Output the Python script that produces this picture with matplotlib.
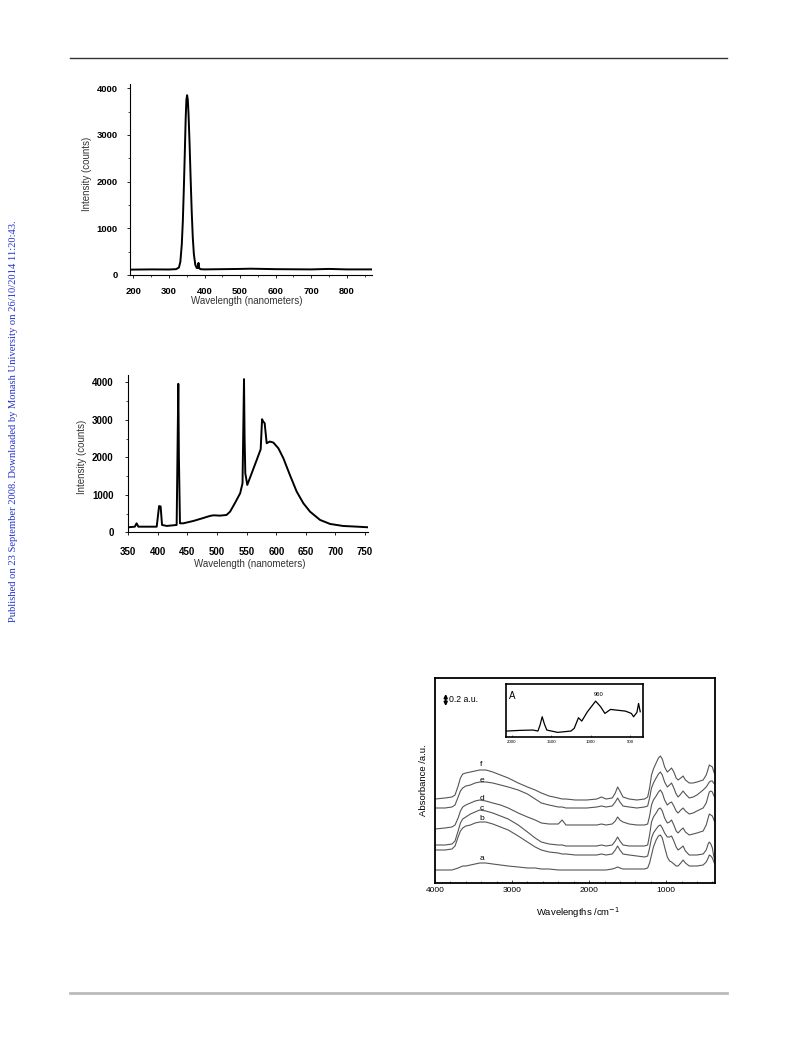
import numpy as np
import matplotlib.pyplot as plt
from matplotlib.lines import Line2D
from matplotlib.ticker import MultipleLocator

plt.rcParams['font.family'] = ['Liberation Sans', 'DejaVu Sans']

# --- chart 1: lamp spectrum (UV)
wl1 = [189, 250, 300, 320, 328, 332, 336, 339, 342, 345, 347, 349, 351, 353, 355, 358, 361,
       364, 367, 370, 374, 378, 381, 383, 385, 388, 400, 450, 500, 530, 600, 700, 750, 800, 871]
int1 = [115, 120, 118, 125, 160, 280, 650, 1150, 1900, 2750, 3350, 3750, 3850, 3750, 3450, 2800, 2050,
        1350, 800, 450, 220, 150, 150, 260, 150, 125, 120, 125, 130, 135, 125, 120, 130, 120, 120]

# --- chart 2: lamp spectrum (visible)
wl2 = [350, 361, 364, 367, 398, 402, 404.6, 407, 415, 431.7, 434.5, 435.5, 437.3, 443, 460, 477,
       488, 494, 505, 516, 522, 530, 539, 543, 545.5, 546.5, 547.7, 551, 558.5, 567, 573.7, 576,
       578, 580.4, 583.8, 589, 595, 603.5, 612, 623, 634.5, 645.8, 657, 674, 691, 713, 736, 755]
int2 = [134, 150, 240, 150, 150, 700, 690, 196, 170, 196, 3965, 2000, 240, 240, 303, 383,
        437, 454, 445, 463, 552, 775, 1042, 1310, 4090, 2500, 1577, 1265, 1577, 1933, 2219, 3020,
        2958, 2913, 2379, 2423, 2397, 2245, 1978, 1532, 1087, 775, 552, 330, 223, 169, 151, 134]

# --- chart 3: FTIR spectra a-f (heights in arbitrary units, 12 units = 0.2 a.u.)
wn = [4000, 3870, 3780, 3740, 3700, 3670, 3640, 3600, 3540, 3480,
      3420, 3340, 3250, 3150, 3050, 2920, 2800, 2700, 2620, 2520,
      2400, 2350, 2300, 2180, 2030, 1900, 1840, 1780, 1700, 1660,
      1630, 1600, 1560, 1480, 1380, 1280, 1240, 1215, 1190, 1165,
      1130, 1100, 1075, 1050, 1020, 985, 955, 930, 900, 870,
      845, 810, 780, 750, 700, 650, 600, 520, 480, 455,
      440, 420, 400, 385, 370]
spec_f = [84, 85, 86, 88, 97, 105, 109, 110, 111, 112,
          113, 113, 111, 108, 105, 100, 96, 93, 90, 87,
          85, 84, 84, 83, 83, 84, 86, 84, 85, 90,
          96, 92, 86, 84, 83, 84, 86, 95, 108, 114,
          120, 125, 127, 124, 116, 111, 113, 115, 111, 105,
          103, 105, 107, 103, 100, 100, 101, 103, 108, 114,
          118, 117, 116, 112, 109]
spec_e = [75, 75, 76, 78, 86, 92, 95, 97, 98, 100,
          101, 101, 100, 98, 96, 93, 89, 84, 80, 78,
          76, 76, 75, 75, 75, 76, 77, 76, 77, 81,
          85, 81, 77, 76, 75, 76, 77, 85, 95, 100,
          105, 109, 111, 108, 101, 96, 98, 100, 95, 89,
          86, 89, 92, 89, 85, 86, 88, 93, 96, 99,
          101, 102, 102, 100, 99]
spec_d = [54, 55, 56, 58, 65, 72, 76, 78, 80, 82,
          83, 82, 80, 78, 75, 70, 66, 63, 60, 59,
          59, 63, 58, 58, 58, 58, 59, 58, 59, 62,
          66, 63, 61, 59, 58, 58, 59, 67, 78, 83,
          87, 91, 93, 90, 83, 78, 80, 81, 77, 72,
          70, 73, 75, 72, 69, 70, 72, 75, 80, 87,
          91, 92, 91, 88, 86]
spec_c = [38, 38, 39, 42, 52, 60, 64, 66, 69, 71,
          73, 72, 70, 67, 64, 58, 51, 45, 41, 39,
          38, 38, 37, 37, 37, 37, 38, 37, 38, 42,
          46, 42, 38, 37, 37, 37, 38, 48, 61, 66,
          70, 74, 75, 72, 65, 60, 61, 63, 58, 52,
          50, 53, 55, 51, 48, 49, 50, 52, 58, 65,
          69, 68, 67, 64, 61]
spec_b = [33, 33, 34, 37, 46, 52, 55, 57, 58, 60,
          61, 61, 59, 56, 53, 47, 41, 36, 33, 31,
          30, 29, 29, 28, 28, 28, 29, 28, 29, 33,
          37, 33, 29, 28, 27, 26, 27, 35, 45, 50,
          54, 57, 58, 55, 50, 46, 46, 47, 42, 36,
          33, 35, 37, 32, 28, 28, 28, 29, 33, 39,
          41, 39, 35, 28, 23]
spec_a = [13, 13, 13, 14, 15, 16, 17, 17, 18, 19,
          20, 20, 19, 18, 17, 16, 15, 15, 14, 14,
          13, 13, 13, 13, 13, 13, 13, 13, 14, 15,
          16, 15, 14, 14, 14, 14, 15, 20, 28, 36,
          43, 47, 48, 45, 36, 26, 22, 21, 19, 17,
          17, 20, 23, 20, 17, 17, 17, 18, 21, 25,
          28, 27, 25, 22, 19]
curve_names = ['a', 'b', 'c', 'd', 'e', 'f']
label_heights = [24, 65, 74, 84, 102, 118]

# inset A
wn_A = [2062, 1896, 1730, 1667, 1640, 1613, 1585, 1555, 1417, 1250, 1209, 1155, 1113, 1042,
        938, 875, 821, 750, 562, 487, 459, 417, 396, 375]
spec_A = [17, 19, 20, 17, 35, 60, 38, 20, 13, 17, 25, 57, 47, 75,
          107, 90, 70, 82, 77, 70, 60, 73, 100, 75]

W, H = 793, 1039
fig = plt.figure(figsize=(W / 100, H / 100), dpi=100)


def box(l, t, r, b):
    return [l / W, 1 - b / H, (r - l) / W, (b - t) / H]


def pt(x, y):
    return x / W, 1 - y / H


# page rules and side note
fig.add_artist(Line2D([70 / W, 727 / W], [1 - 58 / H] * 2, color='#333333', lw=1.0))
fig.add_artist(Line2D([70 / W, 727 / W], [1 - 993 / H] * 2, color='#bbbbbb', lw=2.0))
fig.text(*pt(14, 421), 'Published on 23 September 2008. Downloaded by Monash University on 26/10/2014 11:20:43.',
         rotation=90, ha='center', va='center', color='#2233cc', fontsize=7.6,
         family=['Liberation Serif', 'DejaVu Serif'])

# chart 1
ax1 = fig.add_axes(box(129.5, 83.5, 372, 275))
ax1.plot(wl1, int1, color='k', lw=1.4)
ax1.set_xlim(189, 871)
ax1.set_ylim(0, 4100)
ax1.spines[['top', 'right']].set_visible(False)
ax1.set_xticks(range(200, 801, 100))
ax1.set_yticks(range(0, 4001, 1000))
ax1.xaxis.set_minor_locator(MultipleLocator(50))
ax1.yaxis.set_minor_locator(MultipleLocator(500))
ax1.tick_params(labelsize=6.8, length=2.5, width=0.6, pad=6)
ax1.tick_params(which='minor', length=1.5, width=0.5)
for lab in ax1.get_xticklabels() + ax1.get_yticklabels():
    lab.set_fontweight('bold')
ax1.set_xlabel('Wavelength (nanometers)', fontsize=7, color='#333333')
ax1.set_ylabel('Intensity (counts)', fontsize=7, color='#333333')
ax1.xaxis.set_label_coords(*pt(247, 301), transform=fig.transFigure)
ax1.yaxis.set_label_coords(*pt(87, 174), transform=fig.transFigure)
ax1.xaxis.label.set_va('center')
ax1.yaxis.label.set_va('center')

# chart 2
ax2 = fig.add_axes(box(128.3, 375, 368, 532.3))
ax2.plot(wl2, int2, color='k', lw=1.4)
ax2.set_xlim(350, 755)
ax2.set_ylim(0, 4200)
ax2.spines[['top', 'right']].set_visible(False)
ax2.set_xticks(range(350, 751, 50))
ax2.set_yticks(range(0, 4001, 1000))
ax2.yaxis.set_minor_locator(MultipleLocator(500))
ax2.tick_params(labelsize=7, length=2.5, width=0.6, pad=8)
ax2.tick_params(which='minor', length=1.5, width=0.5)
for lab in ax2.get_xticklabels() + ax2.get_yticklabels():
    lab.set_fontweight('bold')
ax2.set_xlabel('Wavelength (nanometers)', fontsize=7, color='#333333')
ax2.set_ylabel('Intensity (counts)', fontsize=7, color='#333333')
ax2.xaxis.set_label_coords(*pt(250, 564), transform=fig.transFigure)
ax2.yaxis.set_label_coords(*pt(82, 457), transform=fig.transFigure)
ax2.xaxis.label.set_va('center')
ax2.yaxis.label.set_va('center')

# chart 3
ax3 = fig.add_axes(box(435, 678, 715, 883))
for name, spec in zip(curve_names, [spec_a, spec_b, spec_c, spec_d, spec_e, spec_f]):
    ax3.plot(wn, spec, color='#555555', lw=0.8)
for name, h in zip(curve_names, label_heights):
    ax3.text(3396, h, name, fontsize=6, ha='center', va='center')
ax3.set_xlim(4000, 366)
ax3.set_ylim(0, 205)
ax3.set_xticks([4000, 3000, 2000, 1000])
ax3.xaxis.set_minor_locator(MultipleLocator(200))
ax3.set_yticks([])
for s in ax3.spines.values():
    s.set_linewidth(1.3)
ax3.tick_params(labelsize=6, direction='in', length=2, width=0.5, pad=3)
ax3.tick_params(which='minor', direction='in', length=1.2, width=0.4)
ax3.set_xlabel('Wavelengths /cm$^{-1}$', fontsize=6.8)
ax3.set_ylabel('Absorbance /a.u.', fontsize=6.8)
ax3.xaxis.set_label_coords(*pt(578, 913), transform=fig.transFigure)
ax3.yaxis.set_label_coords(*pt(424, 780), transform=fig.transFigure)
ax3.xaxis.label.set_va('center')
ax3.yaxis.label.set_va('center')
ax3.annotate('', xy=(3861, 189), xytext=(3861, 177),
             arrowprops=dict(arrowstyle='<|-|>', color='k', lw=1.2, mutation_scale=5,
                             shrinkA=0, shrinkB=0))
ax3.text(3818, 183, '0.2 a.u.', fontsize=6.3, va='center')

# inset A
axA = fig.add_axes(box(506, 683.5, 643, 736.7))
axA.plot(wn_A, spec_A, color='k', lw=0.9)
axA.set_xlim(2070, 340)
axA.set_ylim(0, 160)
axA.set_xticks([2000, 1500, 1000, 500])
axA.set_yticks([])
for s in axA.spines.values():
    s.set_linewidth(1.2)
axA.tick_params(labelsize=3.2, direction='in', length=1.5, width=0.4, pad=2.5)
axA.text(2034, 123, 'A', fontsize=7, va='center')
axA.text(896, 127, '960', fontsize=4.2, ha='center', va='center')

fig.savefig('out.png', dpi=100)
